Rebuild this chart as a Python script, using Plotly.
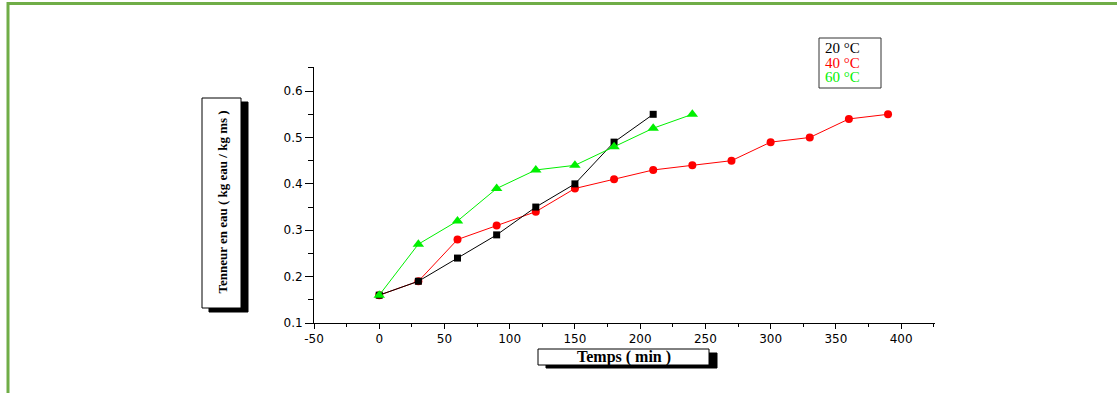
import plotly.graph_objects as go

# ---- data ----
t_20 = [0, 30, 60, 90, 120, 150, 180, 210]
w_20 = [0.16, 0.19, 0.24, 0.29, 0.35, 0.40, 0.49, 0.55]
t_40 = [0, 30, 60, 90, 120, 150, 180, 210, 240, 270, 300, 330, 360, 390]
w_40 = [0.16, 0.19, 0.28, 0.31, 0.34, 0.39, 0.41, 0.43, 0.44, 0.45, 0.49, 0.50, 0.54, 0.55]
t_60 = [0, 30, 60, 90, 120, 150, 180, 210, 240]
w_60 = [0.16, 0.27, 0.32, 0.39, 0.43, 0.44, 0.48, 0.52, 0.55]
series_names = ["20 °C", "40 °C", "60 °C"]
x_tickvals = [-50, 0, 50, 100, 150, 200, 250, 300, 350, 400]
x_ticktext = ["-50", "0", "50", "100", "150", "200", "250", "300", "350", "400"]
y_tickvals = [0.1, 0.2, 0.3, 0.4, 0.5, 0.6]
y_ticktext = ["0.1", "0.2", "0.3", "0.4", "0.5", "0.6"]

W, H = 1117, 393
L, R, T, B = 314, 935, 67, 323
PW, PH = R - L, B - T


def px(x):
    return (x - L) / PW


def py(y):
    return (B - y) / PH


GREEN = "#00f000"

fig = go.Figure()
fig.add_trace(go.Scatter(x=t_40, y=w_40, mode="lines+markers", name=series_names[1],
                         line=dict(color="#ff0000", width=1),
                         marker=dict(symbol="circle", size=8, color="#ff0000")))
fig.add_trace(go.Scatter(x=t_20, y=w_20, mode="lines+markers", name=series_names[0],
                         line=dict(color="#000000", width=1),
                         marker=dict(symbol="square", size=7, color="#000000")))
fig.add_trace(go.Scatter(x=t_60, y=w_60, mode="lines+markers", name=series_names[2],
                         line=dict(color=GREEN, width=1),
                         marker=dict(symbol="triangle-up", size=10, color=GREEN)))

axis_common = dict(showgrid=False, zeroline=False, showline=True, linecolor="black",
                   linewidth=1, ticks="outside", tickcolor="black", tickwidth=1,
                   tickfont=dict(family="DejaVu Sans, Arial", size=12, color="black"))
fig.update_xaxes(range=[-50, 426], tickvals=x_tickvals, ticktext=x_ticktext, ticklen=5,
                 minor=dict(dtick=25, tick0=0, ticks="outside", ticklen=3, tickcolor="black"),
                 **axis_common)
fig.update_yaxes(range=[0.1, 0.652], tickvals=y_tickvals, ticktext=y_ticktext, ticklen=8,
                 minor=dict(dtick=0.05, tick0=0.05, ticks="outside", ticklen=5, tickcolor="black"),
                 **axis_common)

shapes = []
# green page frame (top and left)
shapes.append(dict(type="line", xref="paper", yref="paper", x0=px(7), x1=px(1117), y0=py(3.5), y1=py(3.5),
                   line=dict(color="#70ad47", width=3)))
shapes.append(dict(type="line", xref="paper", yref="paper", x0=px(8), x1=px(8), y0=py(2), y1=py(393),
                   line=dict(color="#70ad47", width=3)))
# y label box with shadow
shapes.append(dict(type="rect", xref="paper", yref="paper", x0=px(209), x1=px(248), y0=py(312), y1=py(102),
                   fillcolor="black", line=dict(color="black", width=1)))
shapes.append(dict(type="rect", xref="paper", yref="paper", x0=px(202), x1=px(241), y0=py(308), y1=py(98),
                   fillcolor="white", line=dict(color="black", width=1)))
# x label box with shadow
shapes.append(dict(type="rect", xref="paper", yref="paper", x0=px(546), x1=px(717), y0=py(368), y1=py(353),
                   fillcolor="black", line=dict(color="black", width=1)))
shapes.append(dict(type="rect", xref="paper", yref="paper", x0=px(538), x1=px(709), y0=py(365), y1=py(349),
                   fillcolor="white", line=dict(color="black", width=1)))
# legend box
shapes.append(dict(type="rect", xref="paper", yref="paper", x0=px(819), x1=px(881), y0=py(88), y1=py(38),
                   fillcolor="white", line=dict(color="#333333", width=1)))

annotations = []
annotations.append(dict(xref="paper", yref="paper", x=px(221.5), y=py(202), text="<b>Tenneur en eau ( kg eau / kg ms )</b>",
                        textangle=-90, showarrow=False, xanchor="center", yanchor="middle",
                        font=dict(family="Liberation Serif, Times New Roman", size=13, color="black")))
annotations.append(dict(xref="paper", yref="paper", x=px(624), y=py(357), text="<b>Temps ( min )</b>",
                        showarrow=False, xanchor="center", yanchor="middle",
                        font=dict(family="Liberation Serif, Times New Roman", size=16, color="black")))
leg_colors = ["#000000", "#ff0000", GREEN]
leg_y = [48, 62.5, 77]
for name, c, yy in zip(series_names, leg_colors, leg_y):
    annotations.append(dict(xref="paper", yref="paper", x=px(823), y=py(yy), text=name,
                            showarrow=False, xanchor="left", yanchor="middle",
                            font=dict(family="Liberation Serif, Times New Roman", size=15, color=c)))

fig.update_layout(width=W, height=H, margin=dict(l=L, r=W - R, t=T, b=H - B),
                  paper_bgcolor="white", plot_bgcolor="white", showlegend=False,
                  shapes=shapes, annotations=annotations)

fig.write_html("out.html", config={"displayModeBar": False},
               post_script="document.body.style.margin='0';document.body.style.overflow='hidden';")
